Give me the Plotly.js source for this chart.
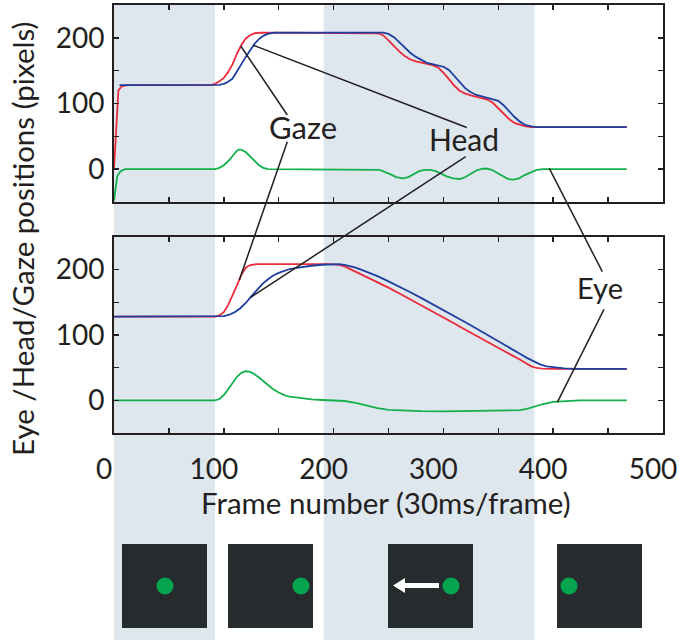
<!DOCTYPE html>
<html>
<head>
<meta charset="utf-8">
<script src="https://cdn.plot.ly/plotly-3.0.1.min.js"></script>
<style>html,body{margin:0;padding:0;background:#fff;}#chart{width:682px;height:640px;}</style>
</head>
<body>
<div id="chart"></div>
<script>
// ---------- DATA ----------
// Top panel
const topGazeX = [0,2,4,7,12,88,92,96,100,104,108,112,116,120,124,128,134,240,245,250,255,260,265,270,275,280,285,290,295,300,305,310,315,320,325,330,335,340,345,350,355,360,365,370,375,380,467];
const topGazeY = [0,60,120,126,128,128,130,134,139,148,160,176,189,199,204,207,208,207,204,196,187,179,172,167,164,162.5,161,158.5,155,147,137,127,119,115,112.5,110,108.5,106,101,93,84,76,70,67,65,64,64];
const topHeadX = [5,92,96,100,104,108,112,116,120,124,128,132,136,140,146,245,250,255,260,265,270,275,280,285,290,295,300,305,310,315,320,325,330,335,340,345,350,355,360,365,370,375,380,385,467];
const topHeadY = [128,128,128.5,130,133,138,148,160,171,182,191,198,203,206,208,208,206,201,193,185,177,171,166,162,160,158.5,156,151,142,132,123,117,113,111,109,107,104,97,88,79,72,67,65,64,64];
const topEyeX = [0,3,6,10,92,96,100,104,108,112,114,116,120,124,128,132,136,140,242,247,252,257,263,268,273,278,283,288,293,298,303,309,315,320,325,330,335,339,344,349,354,359,364,369,374,379,385,391,467];
const topEyeY = [-48,-10,-3,0,0,2,6,12,20,28,30,29.5,26,19,12,6,2,0,-1,-4,-8,-12,-14,-12,-7,-3,-1,-1,-3,-7,-11,-14,-15,-12,-7,-2,0.5,1,-1,-6,-11,-15,-16,-14,-9,-5,-1,0,0];
// Bottom panel
const botGazeX = [0,92,96,100,104,108,112,116,120,124,130,196,200,205,210,215,220,230,240,250,260,270,280,290,300,310,320,330,340,350,360,370,376,380,385,390,400,467];
const botGazeY = [128,128,130,135,146,160,176,192,203,207,208.5,208.5,208.5,207.5,205,201,197,189,181,172.5,163.5,154.5,145,136,126.5,117.5,108,99,90,80.5,71,62,56,52,49.5,48.5,48,48];
const botHeadX = [0,92,100,105,110,115,120,125,130,135,140,145,150,155,160,165,170,180,190,200,205,210,215,220,225,230,240,250,260,270,280,290,300,310,320,330,340,350,360,370,376,382,388,394,400,410,420,467];
const botHeadY = [128,128,129,131,135,141,149,159,169,178,185,191,195,198.5,201,202.5,204,206,207.5,208.5,208.5,207.5,205.5,203,200,197,190,182,174,165.5,156.5,147.5,138.5,129,119.5,110,100.5,91,81,71,65,59.5,55,52,50.5,49,48.2,48];
const botEyeX = [0,92,96,100,104,108,112,116,120,124,128,132,136,140,145,150,155,160,170,180,190,200,210,220,230,240,250,260,280,300,320,340,360,370,376,382,390,400,410,424,467];
const botEyeY = [0,0,2,8,17,27,36,42,44.5,43.5,40,35,29,23,17,12,8,5.5,3,1.5,0.5,0,-1,-4,-8,-12,-14.5,-15.5,-16.5,-17,-16.5,-16,-15.5,-15,-13,-10,-6,-2.5,-1,0,0];
// Stimulus phases (frame ranges shaded)
const phaseStart = [0, 191];
const phaseEnd = [92, 383];
// Axis ticks
const xTickVals = [0,50,100,150,200,250,300,350,400,450,500];
const xTickText = ['0','','100','','200','','300','','400','','500'];
const yTickVals = [-50,0,50,100,150,200,250];
const yTickText = ['','0','','100','','200',''];

// ---------- LAYOUT HELPERS ----------
const W = 682, H = 640;
const M = {l:114, r:19, t:5, b:207};
const PW = W - M.l - M.r, PH = H - M.t - M.b;
const px = v => (v - M.l) / PW;       // pixel x -> paper x
const py = v => (H - M.b - v) / PH;   // pixel y -> paper y

const RED = '#ec2b3a', BLUE = '#1f3fa0', GREEN = '#13b04b', INK = '#231f20';
const FONT = 'Lato, "Open Sans", sans-serif';

function tr(x, y, c, xa, ya) {
  return {x: x, y: y, type: 'scatter', mode: 'lines', xaxis: xa, yaxis: ya,
          line: {color: c, width: 1.8}, hoverinfo: 'skip', showlegend: false};
}
const data = [
  tr(topGazeX, topGazeY, RED, 'x', 'y'),
  tr(topHeadX, topHeadY, BLUE, 'x', 'y'),
  tr(topEyeX, topEyeY, GREEN, 'x', 'y'),
  tr(botGazeX, botGazeY, RED, 'x2', 'y2'),
  tr(botHeadX, botHeadY, BLUE, 'x2', 'y2'),
  tr(botEyeX, botEyeY, GREEN, 'x2', 'y2')
];

const axisCommon = {
  showline: true, linewidth: 2, linecolor: INK, mirror: 'ticks',
  ticks: 'inside', ticklen: 5, tickwidth: 1.5, tickcolor: INK,
  showgrid: false, zeroline: false, fixedrange: true,
  tickfont: {family: FONT, size: 28, color: INK}
};
const topDom = [py(202), 1];
const botDom = [0, py(237)];

const shapes = [];
// shaded bands (extend down through the stimulus panels)
for (let i = 0; i < phaseStart.length; i++) {
  shapes.push({type: 'rect', xref: 'x', yref: 'paper', x0: phaseStart[i], x1: phaseEnd[i],
               y0: py(640), y1: 1, fillcolor: '#dee6ee', line: {width: 0}, layer: 'below'});
}
// stimulus thumbnails
const boxL = [122, 228, 388, 557];
const dotX = [165, 301, 451, 569];
boxL.forEach((b, i) => {
  shapes.push({type: 'rect', xref: 'paper', yref: 'paper', x0: px(b), x1: px(b + 85),
               y0: py(628), y1: py(544), fillcolor: '#262b2e', line: {width: 0}});
  shapes.push({type: 'circle', xref: 'paper', yref: 'paper', x0: px(dotX[i] - 8.5), x1: px(dotX[i] + 8.5),
               y0: py(594.5), y1: py(577.5), fillcolor: '#05a54f', line: {width: 0}});
});
// white arrow in third thumbnail
const ap = [[439,583], [405,583], [405,578], [393,585.5], [405,593], [405,588], [439,588]];
shapes.push({type: 'path', xref: 'paper', yref: 'paper',
  path: 'M ' + ap.map(p => px(p[0]) + ',' + py(p[1])).join(' L ') + ' Z',
  fillcolor: '#ffffff', line: {width: 0}});
// pointer lines for labels
const pointers = [
  [240.7,46, 287.3,115], [287.3,141.7, 239.3,280],
  [253.3,45.3, 466.7,127.5], [465.7,156.7, 250.7,297.3],
  [549.3,168.3, 602.3,271.7], [604,309.3, 557.3,402.3]
];
pointers.forEach(p => shapes.push({type: 'line', xref: 'paper', yref: 'paper',
  x0: px(p[0]), y0: py(p[1]), x1: px(p[2]), y1: py(p[3]), line: {color: INK, width: 1.5}}));

const labelFont = {family: FONT, size: 30, color: INK};
const annotations = [
  {text: 'Gaze', x: px(303), y: py(127), xref: 'paper', yref: 'paper', showarrow: false, font: {family: FONT, size: 31, color: INK}, xanchor: 'center', yanchor: 'middle'},
  {text: 'Head', x: px(463.5), y: py(139), xref: 'paper', yref: 'paper', showarrow: false, font: labelFont, xanchor: 'center', yanchor: 'middle'},
  {text: 'Eye', x: px(600), y: py(287), xref: 'paper', yref: 'paper', showarrow: false, font: {family: FONT, size: 29, color: INK}, xanchor: 'center', yanchor: 'middle'},
  {text: 'Eye /Head/Gaze positions (pixels)', x: px(22), y: py(239), xref: 'paper', yref: 'paper', showarrow: false,
   textangle: -90, font: {family: FONT, size: 29.5, color: INK}, xanchor: 'center', yanchor: 'middle'},
  {text: 'Frame number (30ms/frame)', x: px(386), y: py(502), xref: 'paper', yref: 'paper', showarrow: false,
   font: {family: FONT, size: 29.5, color: INK}, xanchor: 'center', yanchor: 'middle'}
];

const layout = {
  width: W, height: H, margin: M,
  paper_bgcolor: '#ffffff', plot_bgcolor: 'rgba(0,0,0,0)',
  showlegend: false,
  xaxis: Object.assign({}, axisCommon, {domain: [0, 1], anchor: 'y', range: [0, 500],
          tickvals: xTickVals, ticktext: xTickText, showticklabels: false}),
  yaxis: Object.assign({}, axisCommon, {domain: topDom, anchor: 'x', range: [-50, 250],
          tickvals: yTickVals, ticktext: yTickText, ticklabelstandoff: 2}),
  xaxis2: Object.assign({}, axisCommon, {domain: [0, 1], anchor: 'y2', range: [0, 500],
          tickvals: xTickVals, ticktext: xTickText, ticklabelshift: -10, ticklabelstandoff: 10}),
  yaxis2: Object.assign({}, axisCommon, {domain: botDom, anchor: 'x2', range: [-50, 250],
          tickvals: yTickVals, ticktext: yTickText, ticklabelstandoff: 2}),
  shapes: shapes,
  annotations: annotations
};

Plotly.newPlot('chart', data, layout, {displayModeBar: false, staticPlot: true});
</script>
</body>
</html>
